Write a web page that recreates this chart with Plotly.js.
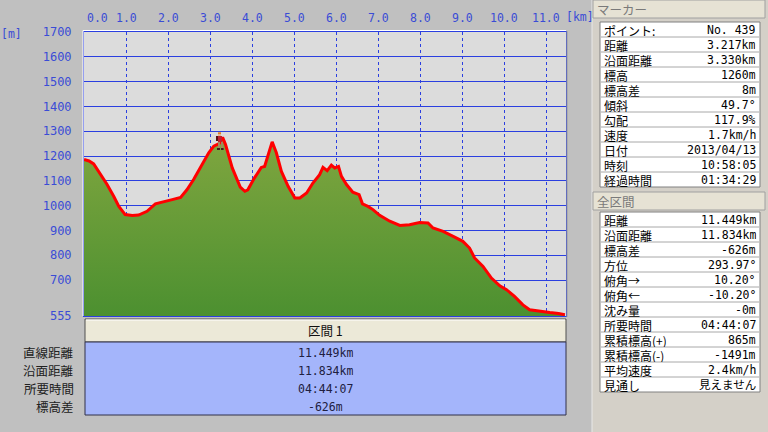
<!DOCTYPE html>
<html><head><meta charset="utf-8">
<script src="https://cdn.plot.ly/plotly-3.0.1.min.js"></script>
<style>html,body{margin:0;padding:0;background:#c0c0c0;}#chart{width:768px;height:432px;}</style>
</head><body><div id="chart"></div>
<script>
// ---- data ----
const distKm = [0, 0.12, 0.23, 0.35, 0.55, 0.71, 0.83, 0.98, 1.15, 1.3, 1.5, 1.7, 1.9, 2.1, 2.3, 2.45, 2.61, 2.81, 2.97, 3.09, 3.217, 3.30, 3.37, 3.53, 3.72, 3.83, 3.90, 4.06, 4.22, 4.30, 4.38, 4.48, 4.58, 4.70, 4.86, 5.02, 5.14, 5.30, 5.45, 5.61, 5.69, 5.79, 5.89, 5.97, 6.06, 6.13, 6.25, 6.40, 6.55, 6.63, 6.76, 6.88, 7.04, 7.28, 7.52, 7.75, 7.99, 8.19, 8.31, 8.55, 8.79, 9.02, 9.18, 9.30, 9.50, 9.70, 9.90, 10.06, 10.25, 10.45, 10.61, 10.85, 11.09, 11.30, 11.449];
const elevM = [1186, 1180, 1168, 1138, 1085, 1037, 997, 964, 960, 962, 977, 1007, 1017, 1024, 1033, 1064, 1105, 1165, 1213, 1240, 1250, 1275, 1246, 1152, 1075, 1058, 1064, 1112, 1154, 1158, 1199, 1257, 1213, 1138, 1078, 1031, 1031, 1051, 1091, 1125, 1154, 1141, 1163, 1152, 1158, 1118, 1085, 1054, 1044, 1007, 997, 984, 961, 937, 920, 923, 932, 930, 910, 896, 876, 856, 829, 789, 755, 708, 677, 661, 634, 600, 580, 576, 569, 565, 560];
const xTickVals = [0,1,2,3,4,5,6,7,8,9,10,11];
const xTickText = ['0.0','1.0','2.0','3.0','4.0','5.0','6.0','7.0','8.0','9.0','10.0','11.0'];
const yTickVals = [555,700,800,900,1000,1100,1200,1300,1400,1500,1600,1700];
const yTickText = ['555','700','800','900','1000','1100','1200','1300','1400','1500','1600','1700'];
const markerKm = 3.217;
const markerElev = 1260;

const sectionTitle = '区間 1';
const sectionLabels = ['直線距離','沿面距離','所要時間','標高差'];
const sectionValues = ['11.449km','11.834km','04:44:07','-626m'];

const markerTitle = 'マーカー';
const markerLabels = ['ポイント:','距離','沿面距離','標高','標高差','傾斜','勾配','速度','日付','時刻','経過時間'];
const markerValues = ['No. 439','3.217km','3.330km','1260m','8m','49.7°','117.9%','1.7km/h','2013/04/13','10:58:05','01:34:29'];

const totalTitle = '全区間';
const totalLabels = ['距離','沿面距離','標高差','方位','俯角→','俯角←','沈み量','所要時間','累積標高(+)','累積標高(-)','平均速度','見通し'];
const totalValues = ['11.449km','11.834km','-626m','293.97°','10.20°','-10.20°','-0m','04:44:07','865m','-1491m','2.4km/h','見えません'];

// ---- layout helpers ----
const W = 768, H = 432;
const M = {l:84, r:202, t:32, b:116};
const PW = W - M.l - M.r, PH = H - M.t - M.b;
const px = v => (v - M.l) / PW;
const py = v => (H - M.b - v) / PH;

const BLUE = '#2b3fe0';
const TICKBLUE = '#3a4cd6';
const JP = 'Noto Sans CJK JP, sans-serif';
const NUM = 'DejaVu Sans Mono, Noto Sans CJK JP, monospace';

const shapes = [];
const annotations = [];
function rect(x0,y0,x1,y1,fill,line,lw){
  shapes.push({type:'rect', xref:'paper', yref:'paper', x0:px(x0), x1:px(x1), y0:py(y1), y1:py(y0),
    fillcolor:fill, line:{color:line||'rgba(0,0,0,0)', width: lw===undefined?1:lw}, layer:'above'});
}
function hline(x0,x1,y,color){
  shapes.push({type:'line', xref:'paper', yref:'paper', x0:px(x0), x1:px(x1), y0:py(y), y1:py(y), line:{color:color,width:1}, layer:'above'});
}
function vline(x,y0,y1,color){
  shapes.push({type:'line', xref:'paper', yref:'paper', x0:px(x), x1:px(x), y0:py(y0), y1:py(y1), line:{color:color,width:1}, layer:'above'});
}
function text(t,x,y,anchor,size,color,family,h){
  const a = {text:t, xref:'paper', yref:'paper', x:px(x), y:py(y), xanchor:anchor, yanchor:'middle',
    showarrow:false, font:{size:size, color:color, family:family}, borderpad:0};
  if (h) { a.height = h; a.valign = 'middle'; }
  annotations.push(a);
}

// x tick labels on top (axis data coords)
xTickVals.forEach((v,i)=>{
  annotations.push({text:xTickText[i], xref:'x', yref:'paper', x:v, y:1, yanchor:'middle', xanchor:'center',
    yshift:14.5, xshift: i===0 ? 13 : 0, showarrow:false, font:{size:11.5, color:TICKBLUE, family:NUM}});
});
text('[km]', 580, 17, 'center', 11.5, TICKBLUE, NUM);
text('[m]', 11, 34, 'center', 11.5, TICKBLUE, NUM);

// plot frame highlight
hline(83, 566, 30.5, '#ffffff');
vline(83, 30.5, 316, '#ffffff');
vline(567, 31, 317, '#9a9a9a');

// bottom section table
rect(85, 319, 566, 342, '#ece9d8', '#505050', 1);
hline(86, 565, 320, '#ffffff');
rect(85, 342, 566, 415, '#a4b5fb', '#303048', 1);
text(sectionTitle, 325, 330.5, 'center', 12.5, '#101010', JP);
const secY = [352.7, 370.5, 388.5, 406.7];
sectionLabels.forEach((l,i)=>{
  text(l, 75, secY[i], 'right', 12.5, '#202020', JP, 17);
  text(sectionValues[i], 325, secY[i], 'center', 11.5, '#202040', NUM, 17);
});

// right panel
rect(592, 0, 768, 432, '#d4d0c8', null, 0);
vline(592, 0, 432, '#e8e8e8');
rect(593, 0, 765, 18, '#e6e2d4', '#a0a0a0', 1);
text(markerTitle, 596, 9.5, 'left', 12.5, '#7a7a7a', JP);
rect(600, 22, 760, 187, '#ffffff', '#808080', 1);
markerLabels.forEach((l,i)=>{
  const y0 = 22 + 15*i;
  if (i>0) hline(601, 759, y0, '#a8a8a8');
  text(l, 603, y0+8, 'left', 12, '#000000', JP, 14);
  text(markerValues[i], 757, y0+8, 'right', 11.5, '#000000', NUM, 14);
});
rect(593, 192, 765, 210, '#e6e2d4', '#a0a0a0', 1);
text(totalTitle, 596, 201.5, 'left', 12.5, '#7a7a7a', JP);
rect(600, 212, 760, 392, '#ffffff', '#808080', 1);
totalLabels.forEach((l,i)=>{
  const y0 = 212 + 15*i;
  if (i>0) hline(601, 759, y0, '#a8a8a8');
  text(l, 603, y0+8, 'left', 12, '#000000', JP, 14);
  text(totalValues[i], 757, y0+8, 'right', 11.5, '#000000', NUM, 14);
});

// hiker marker icon
const svg = '<svg xmlns="http://www.w3.org/2000/svg" width="9" height="18" viewBox="0 0 9 18" shape-rendering="crispEdges">'+
 '<rect x="3" y="0" width="3" height="2" fill="#e0802a"/>'+
 '<rect x="3" y="2" width="3" height="2" fill="#e8b890"/>'+
 '<rect x="1" y="4" width="3" height="5" fill="#5a1010"/>'+
 '<rect x="3" y="4" width="4" height="6" fill="#c02030"/>'+
 '<rect x="3" y="10" width="2" height="6" fill="#a08860"/>'+
 '<rect x="6" y="10" width="2" height="6" fill="#a08860"/>'+
 '<rect x="2" y="16" width="3" height="2" fill="#402020"/>'+
 '<rect x="6" y="16" width="3" height="2" fill="#402020"/></svg>';
const kmPerPx = 11.476 / PW, mPerPx = (1700-555) / PH;

const traces = [{
  type:'scatter', mode:'lines', x:distKm, y:elevM,
  line:{color:'#ff0000', width:3},
  fill:'tozeroy', fillcolor:'#6a9c3c',
  fillgradient:{type:'vertical', start:555, stop:1280, colorscale:[[0,'#4c9030'],[1,'#80a63f']]},
  hoverinfo:'skip'
}];

const layout = {
  width:W, height:H, margin:M,
  paper_bgcolor:'#c0c0c0', plot_bgcolor:'#dcdcdc',
  showlegend:false,
  xaxis:{range:[0, 11.476], side:'top', tickmode:'array', tickvals:xTickVals.slice(1), showticklabels:false,
    ticks:'', showgrid:true, gridcolor:BLUE, griddash:'dot', gridwidth:1, zeroline:false,
    showline:true, linecolor:BLUE, linewidth:1, mirror:true, fixedrange:true},
  yaxis:{range:[555,1700], tickmode:'array', tickvals:yTickVals, ticktext:yTickText,
    ticks:'outside', ticklen:9, tickcolor:'rgba(0,0,0,0)',
    tickfont:{size:12, color:TICKBLUE, family:NUM},
    showgrid:true, gridcolor:BLUE, gridwidth:1, zeroline:false,
    showline:true, linecolor:BLUE, linewidth:1, mirror:true, fixedrange:true},
  shapes:shapes, annotations:annotations,
  images:[{source:'data:image/svg+xml;charset=utf-8,'+encodeURIComponent(svg), xref:'x', yref:'y',
    x:markerKm, y:markerElev, sizex:9*kmPerPx, sizey:18*mPerPx, xanchor:'center', yanchor:'middle',
    sizing:'stretch', layer:'above'}]
};
Plotly.newPlot('chart', traces, layout, {staticPlot:true, displayModeBar:false});
</script></body></html>
